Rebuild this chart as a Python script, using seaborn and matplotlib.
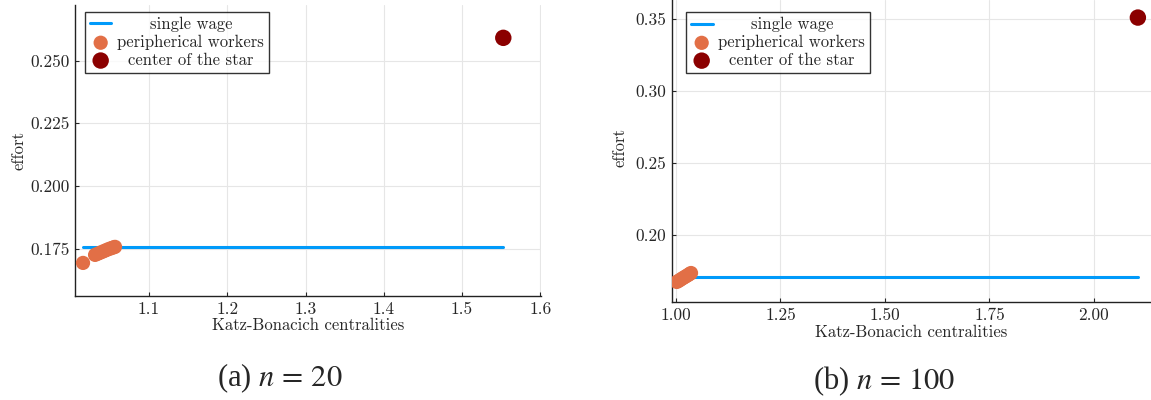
import matplotlib
matplotlib.use('Agg')
import matplotlib.pyplot as plt
import seaborn as sns

# n = 20
left_peri_x = [1.0156, 1.031, 1.034, 1.037, 1.040, 1.043, 1.046, 1.049, 1.052, 1.0545, 1.0565]
left_peri_y = [0.1693, 0.1725, 0.1729, 0.1733, 0.1737, 0.1741, 0.1745, 0.1749, 0.1752, 0.1755, 0.1757]
left_center = (1.5527, 0.2591)
left_wage = 0.1757
left_xticks = [1.1, 1.2, 1.3, 1.4, 1.5, 1.6]
left_yticks = [0.175, 0.200, 0.225, 0.250]

# n = 100
right_peri_x = [1.002, 1.006, 1.010, 1.014, 1.018, 1.022, 1.026, 1.030, 1.033, 1.036]
right_peri_y = [0.1674, 0.1681, 0.1688, 0.1696, 0.1703, 0.1710, 0.1717, 0.1724, 0.1730, 0.1736]
right_center = (2.105, 0.351)
right_wage = 0.1708
right_xticks = [1.00, 1.25, 1.50, 1.75, 2.00]
right_yticks = [0.20, 0.25, 0.30, 0.35]

labels = ['single wage', 'peripherical workers', 'center of the star']
captions = [r'(a) $n\,=\,20$', r'(b) $n\,=\,100$']

sns.set_style('white')
plt.rcParams['font.family'] = ['cmr10', 'DejaVu Serif']
plt.rcParams['mathtext.fontset'] = 'cm'
plt.rcParams['axes.formatter.use_mathtext'] = True

BLUE = '#009afa'
ORANGE = '#e26f46'
DARKRED = '#8b0000'

fig = plt.figure(figsize=(11.51, 4.0), dpi=100)
ax1 = fig.add_axes([0.0652, 0.26, 0.4049, 0.7275])
ax2 = fig.add_axes([0.5838, 0.245, 0.4162, 0.755])


def panel(ax, px, py, center, wage, xticks, yticks, xfmt, yfmt, xlim, ylim):
    sns.lineplot(x=[min(px), center[0]], y=[wage, wage], ax=ax, color=BLUE,
                 linewidth=2.2, label=labels[0], zorder=2)
    sns.scatterplot(x=px, y=py, ax=ax, color=ORANGE, s=105, edgecolor='none',
                    label=labels[1], zorder=3)
    sns.scatterplot(x=[center[0]], y=[center[1]], ax=ax, color=DARKRED, s=140,
                    edgecolor='none', label=labels[2], zorder=3)
    ax.set_xlim(*xlim)
    ax.set_ylim(*ylim)
    ax.set_xticks(xticks)
    ax.set_yticks(yticks)
    ax.set_xticklabels([xfmt.format(v) for v in xticks])
    ax.set_yticklabels([yfmt.format(v) for v in yticks])
    ax.tick_params(direction='in', length=3, width=0.8, labelsize=12.5, pad=4,
                   top=False, right=False, bottom=True, left=True)
    ax.grid(True, color='#e6e6e6', linewidth=0.8)
    for s in ['top', 'right']:
        ax.spines[s].set_visible(False)
    for s in ['left', 'bottom']:
        ax.spines[s].set_color('#222222')
        ax.spines[s].set_linewidth(1.0)
    ax.set_xlabel('Katz-Bonacich centralities', fontsize=12)
    ax.set_ylabel('effort', fontsize=12)


panel(ax1, left_peri_x, left_peri_y, left_center, left_wage, left_xticks, left_yticks,
      '{:.1f}', '{:.3f}', (1.0054, 1.601), (0.1561, 0.2722))
panel(ax2, right_peri_x, right_peri_y, right_center, right_wage, right_xticks, right_yticks,
      '{:.2f}', '{:.2f}', (0.9904, 2.1364), (0.15347, 0.3632))

ax1.xaxis.set_label_coords(0.5, -0.075)
ax1.yaxis.set_label_coords(-0.105, 0.5)
ax2.xaxis.set_label_coords(0.5, -0.076)
ax2.yaxis.set_label_coords(-0.092, 0.51)

legs = []
for ax, anchor in [(ax1, (0.021, 0.976)), (ax2, (0.029, 0.96))]:
    leg = ax.legend(loc='upper left', bbox_to_anchor=anchor, borderaxespad=0,
                    frameon=True, fancybox=False, fontsize=12, handlelength=1.3,
                    labelspacing=0.15, handletextpad=0.35, borderpad=0.3)
    leg.get_frame().set_edgecolor('black')
    leg.get_frame().set_linewidth(1.0)
    legs.append(leg)

fig.text(280 / 1151, 1 - 378 / 400, captions[0], ha='center', va='center',
         fontsize=22, family=['Liberation Serif'], math_fontfamily='stix')
fig.text(884 / 1151, 1 - 381 / 400, captions[1], ha='center', va='center',
         fontsize=22, family=['Liberation Serif'], math_fontfamily='stix')

# centre legend labels like the original
fig.canvas.draw()
r = fig.canvas.get_renderer()
for leg in legs:
    texts = leg.get_texts()
    widths = [t.get_window_extent(r).width for t in texts]
    w = max(widths)
    for t, wi in zip(texts, widths):
        t.set_x((w - wi) / 2)

fig.savefig('out.png', dpi=100)
